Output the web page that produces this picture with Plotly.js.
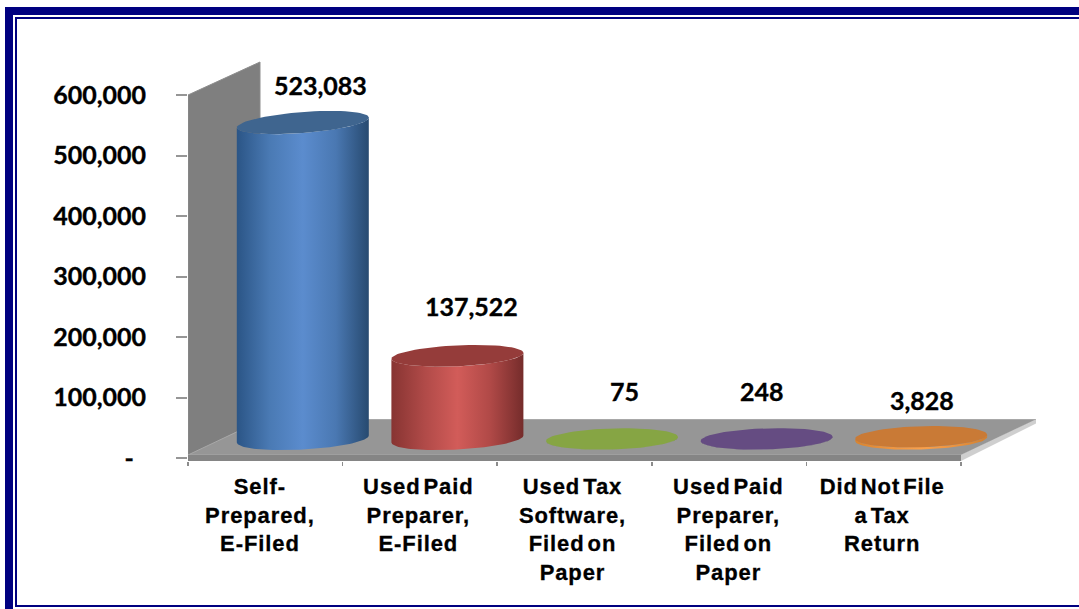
<!DOCTYPE html>
<html>
<head>
<meta charset="utf-8">
<script src="https://cdn.plot.ly/plotly-3.0.1.min.js"></script>
<style>
  html, body { margin: 0; padding: 0; background: #fff; }
  #chart { width: 1079px; height: 609px; }
  .xtick text { letter-spacing: 0.9px; word-spacing: -4px; stroke: #000; stroke-width: 0.3px; }
  .ytick text, .annotation-text { stroke: #000; stroke-width: 0.35px; }
</style>
</head>
<body>
<div id="chart"></div>
<script>
// Filing method counts
const categories = [
  "Self-<br>Prepared,<br>E-Filed",
  "Used Paid<br>Preparer,<br>E-Filed",
  "Used Tax<br>Software,<br>Filed on<br>Paper",
  "Used Paid<br>Preparer,<br>Filed on<br>Paper",
  "Did Not File<br>a Tax<br>Return"
];
const values = [523083, 137522, 75, 248, 3828];

const yTickValues = [0, 100000, 200000, 300000, 400000, 500000, 600000];
const yTickLabels = ["-\u00a0\u00a0", "100,000", "200,000", "300,000", "400,000", "500,000", "600,000"];

// Cylinder shading: edge, mid, highlight, mid, edge, plus the lid colour
const bodyColors = [
  ["#2b5586", "#4a7ab4", "#5b8cce", "#4a78b2", "#274a70"],
  ["#873432", "#b04a48", "#d25c59", "#b04947", "#752c2b"],
  ["#6c8a33", "#86a544", "#9cc050", "#86a544", "#64802f"],
  ["#503a6c", "#654c82", "#7d5fa0", "#654c82", "#4a3664"],
  ["#d88430", "#ec9440", "#f9a04c", "#ec9440", "#d08030"]
];
const lidColors = ["#3f658f", "#953c3a", "#86a544", "#654c82", "#c97a36"];

// Slant in pixels of each lid and of the cylinder bases
const lidTilt = [5, 3, 2, 2, 2];
const baseTilt = [3.5, 3.5, 2, 2, 2];

// Label nudges in pixels relative to each cylinder's lid centre
const labelShiftX = [18, 14, 12, -5, 1];
const labelShiftY = [38, 50, 48, 48, 37];

// Pixel frame of the plot area and the scale of the axes
const plot = { left: 188, right: 1040, top: 50, bottom: 461, zero: 458 };
const pxPerCategory = 154.6;
const pxPer100k = 60.5;
const unitsPerPx = 100000 / pxPer100k;
const yLow = (plot.zero - plot.bottom) * unitsPerPx;
const yHigh = (plot.zero - plot.top) * unitsPerPx;
const xHigh = (plot.right - plot.left) / pxPerCategory;

// Depth of the floor in axis units
const depthX = 75 / pxPerCategory;
const depthY = 38.5 * unitsPerPx;
const floorFront = 3 * unitsPerPx;

const radiusX = 66 / pxPerCategory;
const radiusY = 10.5 * unitsPerPx;

function ellipsePoint(cx, cy, t, slant) {
  return [cx + radiusX * Math.cos(t), cy + radiusY * Math.sin(t) + slant * unitsPerPx * Math.cos(t)];
}

function poly(xs, ys, color, line) {
  return {
    type: "scatter", mode: "lines", x: xs, y: ys, fill: "toself", fillcolor: color,
    line: line || { width: 0 }, hoverinfo: "skip", showlegend: false
  };
}

const traces = [];

// Back wall, floor surface, front lip and side lip
traces.push(poly(
  [0, 0, depthX * 0.96, depthX * 0.96, 0],
  [0, 600000, 600000 + 33 * unitsPerPx, depthY, 0],
  "#7f7f7f", { width: 1, color: "#8d8d8d" }));
traces.push(poly(
  [0, 5, 5 + depthX, depthX, 0],
  [floorFront, floorFront, depthY, depthY, floorFront],
  "#969696", { width: 1, color: "#a8a8a8" }));
traces.push(poly(
  [0, 5, 5, 0, 0],
  [yLow, yLow, floorFront, floorFront, yLow],
  "#858585"));
traces.push(poly(
  [5, 5 + depthX, 5 + depthX, 5, 5],
  [yLow, depthY - 4 * unitsPerPx, depthY, floorFront, yLow],
  "#cfcfcf"));

// Cylinders stand halfway back on the floor
const annotations = [];
values.forEach((v, i) => {
  const cx = i + 0.5 + depthX / 2;
  const base = 19 * unitsPerPx;
  const top = base + v;
  const stops = bodyColors[i];
  const xs = [], ys = [];
  // Left to right along the near edge of the base, back along the near edge of the lid
  for (let k = 0; k <= 60; k++) {
    const p = ellipsePoint(cx, base, Math.PI + Math.PI * k / 60, baseTilt[i]);
    xs.push(p[0]); ys.push(p[1]);
  }
  for (let k = 60; k >= 0; k--) {
    const p = ellipsePoint(cx, top, Math.PI + Math.PI * k / 60, lidTilt[i]);
    xs.push(p[0]); ys.push(p[1]);
  }
  xs.push(xs[0]); ys.push(ys[0]);
  const body = poly(xs, ys, stops[1]);
  body.fillgradient = {
    type: "horizontal",
    colorscale: stops.map((c, n) => [n / (stops.length - 1), c])
  };
  traces.push(body);

  const lidX = [], lidY = [];
  for (let k = 0; k <= 72; k++) {
    const p = ellipsePoint(cx, top, 2 * Math.PI * k / 72, lidTilt[i]);
    lidX.push(p[0]); lidY.push(p[1]);
  }
  traces.push(poly(lidX, lidY, lidColors[i]));

  annotations.push({
    x: cx, y: top, xref: "x", yref: "y", showarrow: false,
    text: v.toLocaleString("en-US"),
    xshift: labelShiftX[i], yshift: labelShiftY[i],
    font: { family: "Lato, sans-serif", size: 25, color: "#000", weight: 700 }
  });
});

// Page frame, drawn in pixels and converted to paper fractions
const plotW = plot.right - plot.left, plotH = plot.bottom - plot.top;
function frameRect(x0, y0, x1, y1) {
  return {
    type: "rect", xref: "paper", yref: "paper", layer: "above",
    x0: (x0 - plot.left) / plotW, x1: (x1 - plot.left) / plotW,
    y0: (plot.bottom - y0) / plotH, y1: (plot.bottom - y1) / plotH,
    fillcolor: "#000080", line: { width: 0 }
  };
}
const frame = [
  frameRect(5, 7, 1079, 15),
  frameRect(5, 7, 13, 609),
  frameRect(15, 17, 1079, 19),
  frameRect(15, 17, 17, 607),
  frameRect(15, 605, 1079, 607)
];

const layout = {
  width: 1079, height: 609,
  paper_bgcolor: "#fff", plot_bgcolor: "#fff",
  showlegend: false,
  margin: { l: plot.left, r: 1079 - plot.right, t: plot.top, b: 609 - plot.bottom, pad: 0 },
  xaxis: {
    type: "linear", range: [0, xHigh], showgrid: false, zeroline: false, showline: false,
    tickmode: "array",
    tickvals: [0.465, 1.49, 2.487, 3.495, 4.49],
    ticktext: categories,
    ticks: "", ticklabelstandoff: 10,
    tickfont: { family: "Liberation Sans, Arial, sans-serif", size: 22, color: "#000", weight: 700 },
    tickangle: 0,
    minor: {
      tickmode: "array", tickvals: [0, 1, 2, 3, 4, 5],
      ticks: "outside", ticklen: 4, tickwidth: 1.5, tickcolor: "#8c8c8c", showgrid: false
    }
  },
  yaxis: {
    range: [yLow, yHigh], showgrid: false, zeroline: false, showline: false,
    tickmode: "array", tickvals: yTickValues, ticktext: yTickLabels,
    ticks: "outside", ticklen: 11, tickwidth: 2, tickcolor: "#969696",
    ticklabelstandoff: 25,
    tickfont: { family: "Lato, sans-serif", size: 25, color: "#000", weight: 700 }
  },
  annotations: annotations,
  shapes: frame
};

Plotly.newPlot("chart", traces, layout, { displayModeBar: false, staticPlot: true });
</script>
</body>
</html>
